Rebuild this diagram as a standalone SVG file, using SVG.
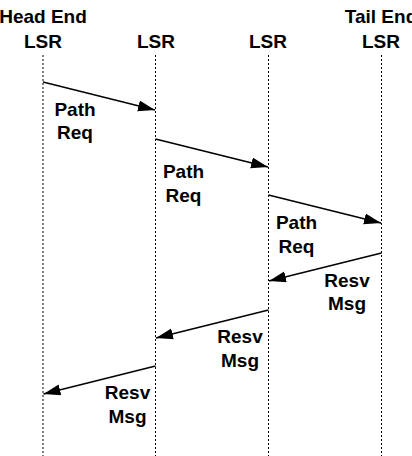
<svg xmlns="http://www.w3.org/2000/svg" width="412" height="456" viewBox="0 0 412 456">
<style>
text{font-family:"Liberation Sans",Arial,sans-serif;font-weight:bold;font-size:19px;fill:#000;text-anchor:middle}
.life{stroke:#000;stroke-width:1;stroke-dasharray:2,2;fill:none}
.msg{stroke:#000;stroke-width:1.5;fill:none;marker-end:url(#ah)}
</style>
<defs>
<marker id="ah" markerUnits="userSpaceOnUse" markerWidth="18" markerHeight="12" refX="17" refY="5.5" orient="auto">
<path d="M0,0 L17,5.5 L0,11 z" fill="#000"/>
</marker>
</defs>
<rect width="412" height="456" fill="#fff"/>
<g id="lsr1">
<text x="43" y="23">Head End</text>
<text x="43" y="48">LSR</text>
<line class="life" x1="43" y1="55" x2="43" y2="456"/>
</g>
<g id="lsr2">
<text x="156" y="48">LSR</text>
<line class="life" x1="155.5" y1="55" x2="155.5" y2="456"/>
</g>
<g id="lsr3">
<text x="268" y="48">LSR</text>
<line class="life" x1="268.5" y1="55" x2="268.5" y2="456"/>
</g>
<g id="lsr4">
<text x="381" y="23">Tail End</text>
<text x="381" y="48">LSR</text>
<line class="life" x1="381.5" y1="55" x2="381.5" y2="456"/>
</g>
<g id="connectors">
<line class="msg" x1="43" y1="82" x2="155" y2="110"/>
<line class="msg" x1="155.5" y1="139" x2="268" y2="167"/>
<line class="msg" x1="268.5" y1="195" x2="381" y2="223"/>
<line class="msg" x1="381.5" y1="253" x2="269" y2="281"/>
<line class="msg" x1="268.5" y1="310" x2="156" y2="338"/>
<line class="msg" x1="155.5" y1="366" x2="43.5" y2="394"/>
</g>
<g id="labels">
<text x="75" y="115.5">Path</text>
<text x="75" y="138.5">Req</text>
<text x="183.5" y="178">Path</text>
<text x="183.5" y="201.5">Req</text>
<text x="296.5" y="229">Path</text>
<text x="296.5" y="252.5">Req</text>
<text x="347" y="287">Resv</text>
<text x="347" y="310">Msg</text>
<text x="240" y="343">Resv</text>
<text x="240" y="366.5">Msg</text>
<text x="127.5" y="399">Resv</text>
<text x="127.5" y="423">Msg</text>
</g>
</svg>
